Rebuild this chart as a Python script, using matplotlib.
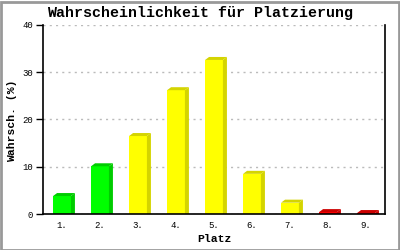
import matplotlib
matplotlib.use("Agg")
import matplotlib.pyplot as plt
from matplotlib.patches import Rectangle, Polygon

places = ["1.", "2.", "3.", "4.", "5.", "6.", "7.", "8.", "9."]
values = [3.8, 10.1, 16.5, 26.2, 32.6, 8.5, 2.4, 0.4, 0.2]
front_colors = ["#00ff00", "#00ff00", "#ffff00", "#ffff00", "#ffff00", "#ffff00", "#ffff00", "#ff0000", "#ff0000"]
side_colors = ["#00cc00", "#00cc00", "#d4d400", "#d4d400", "#d4d400", "#d4d400", "#d4d400", "#cc0000", "#cc0000"]
yticks = [0, 10, 20, 30, 40]

mono = ["Liberation Mono", "DejaVu Sans Mono"]

fig = plt.figure(figsize=(4, 2.5), dpi=100)
ax = fig.add_axes([43/400, 36/250, 342/400, 189/250])
ax.set_xlim(0.5, 9.5)
ax.set_ylim(0, 40)

width = 0.47
dx = 4/38.0
dy = 3/4.725
xs = list(range(1, len(values) + 1))
ax.bar(xs, values, width=width, color=front_colors, zorder=3, linewidth=0)
for x, v, sc in zip(xs, values, side_colors):
    l, r = x - width/2, x + width/2
    top = Polygon([(l, v), (l + dx, v + dy), (r + dx, v + dy), (r, v)], closed=True,
                  facecolor=sc, edgecolor="none", zorder=3)
    side = Polygon([(r, 0), (r, v), (r + dx, v + dy), (r + dx, 0)], closed=True,
                   facecolor=sc, edgecolor="none", zorder=3)
    ax.add_patch(top)
    ax.add_patch(side)
ax.set_xticks(xs)
ax.set_xticklabels(places, family=mono, fontsize=6.5)
ax.set_yticks(yticks)
ax.set_yticklabels([str(t) for t in yticks], family=mono, fontsize=6.5)
ax.tick_params(axis="x", length=0, pad=5)
ax.tick_params(axis="y", length=5, width=1, pad=2, direction="out")
ax.grid(axis="y", color="#bbbbbb", linestyle=(0, (1.5, 3)), linewidth=1, zorder=0)
for s in ["left", "bottom", "right"]:
    ax.spines[s].set_color("black")
    ax.spines[s].set_linewidth(1.2)
    ax.spines[s].set_zorder(4)
ax.spines["top"].set_visible(False)

fig.text(0.5, 1 - 13.5/250, "Wahrscheinlichkeit für Platzierung", ha="center", va="center",
         family=mono, fontsize=10.8, fontweight="bold")
ax.set_xlabel("Platz", family=mono, fontsize=8.2, fontweight="bold")
ax.set_ylabel("Wahrsch. (%)", family=mono, fontsize=8.2, fontweight="bold")
ax.xaxis.set_label_coords(0.5, (214 - 234) / 189)
ax.yaxis.set_label_coords((17 - 43) / 342, (214 - 121) / 189)

fig.patches.append(Rectangle((0.5/400, 0.5/250), 398/400, 248/250, transform=fig.transFigure,
                             fill=False, edgecolor="#999999", linewidth=2))
fig.savefig("out.png", dpi=100)
